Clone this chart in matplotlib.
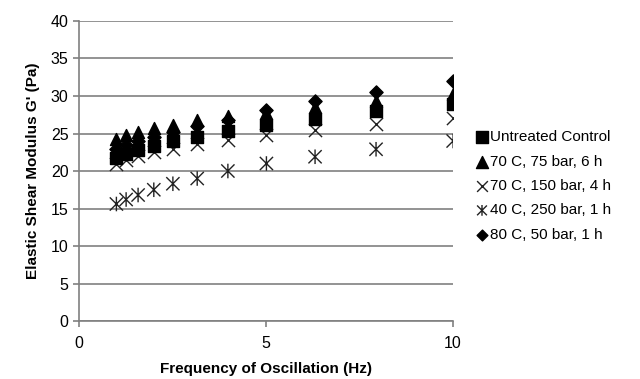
import matplotlib.pyplot as plt
import numpy as np
from matplotlib.path import Path

plt.rcParams['font.family'] = ['Liberation Sans', 'DejaVu Sans']

# -------- Data --------
freq = [1.0, 1.26, 1.58, 2.0, 2.51, 3.16, 3.98, 5.01, 6.31, 7.94, 10.0]
untreated = [21.8, 22.3, 22.8, 23.3, 24.0, 24.5, 25.3, 26.2, 27.0, 28.0, 29.0]
t70_75_6 = [24.3, 24.8, 25.2, 25.7, 26.2, 26.8, 27.4, 27.7, 28.6, 29.4, 30.3]
t70_150_4 = [21.0, 21.5, 22.0, 22.5, 23.0, 23.6, 24.2, 24.8, 25.5, 26.3, 27.1]
t40_250_1 = [15.6, 16.2, 16.8, 17.5, 18.3, 19.0, 20.0, 21.0, 21.9, 22.9, 24.0]
t80_50_1 = [23.0, 23.5, 24.0, 24.5, 25.2, 26.0, 26.8, 28.1, 29.4, 30.6, 32.0]

labels = ['Untreated Control', '70 C, 75 bar, 6 h', '70 C, 150 bar, 4 h',
          '40 C, 250 bar, 1 h', '80 C, 50 bar, 1 h']

# Excel-style star: an X with a vertical bar through it
star = Path([(-1, -1), (1, 1), (-1, 1), (1, -1), (0, -1.1), (0, 1.1)],
            [Path.MOVETO, Path.LINETO, Path.MOVETO, Path.LINETO, Path.MOVETO, Path.LINETO])

fig = plt.figure(figsize=(6.4, 3.79), dpi=100)
ax = fig.add_axes([0.1234, 0.153, 0.5846, 0.7916])

ax.scatter(freq, t40_250_1, marker=star, s=110, facecolors='none', edgecolors='#222222',
           linewidths=1.0, label=labels[3], zorder=3)
ax.scatter(freq, t70_150_4, marker='x', s=90, color='#222222', linewidths=1.0,
           label=labels[2], zorder=3)
ax.scatter(freq, t80_50_1, marker='D', s=45, color='black', label=labels[4], zorder=3)
ax.scatter(freq, t70_75_6, marker='^', s=75, color='black', label=labels[1], zorder=4)
ax.scatter(freq, untreated, marker='s', s=75, color='black', label=labels[0], zorder=5)

ax.set_xlim(0, 10)
ax.set_ylim(0, 40)
ax.set_xticks([0, 5, 10])
ax.set_yticks(np.arange(0, 41, 5))
ax.yaxis.grid(True, color='#808080', linewidth=1.2)
ax.set_axisbelow(True)
for side in ['top', 'right']:
    ax.spines[side].set_visible(False)
for side in ['left', 'bottom']:
    ax.spines[side].set_color('#808080')
    ax.spines[side].set_linewidth(1.2)
ax.tick_params(axis='both', colors='#808080', labelcolor='black', labelsize=11.5,
               length=4, width=1.2)
ax.tick_params(axis='x', pad=7)

ax.set_xlabel('Frequency of Oscillation (Hz)', fontsize=11, fontweight='bold', labelpad=8)
ax.set_ylabel("Elastic Shear Modulus G' (Pa)", fontsize=11, fontweight='bold', labelpad=8)

handles, labs = ax.get_legend_handles_labels()
order = [labs.index(l) for l in labels]
leg = ax.legend([handles[i] for i in order], [labs[i] for i in order],
                loc='center left', bbox_to_anchor=(1.02, 0.45), frameon=False,
                fontsize=11, handletextpad=0.0, labelspacing=0.68,
                handlelength=1.0)
leg.legend_handles[4].set_sizes([30])
leg.legend_handles[2].set_sizes([60])
leg.legend_handles[3].set_sizes([60])

plt.savefig('out.png', dpi=100)
